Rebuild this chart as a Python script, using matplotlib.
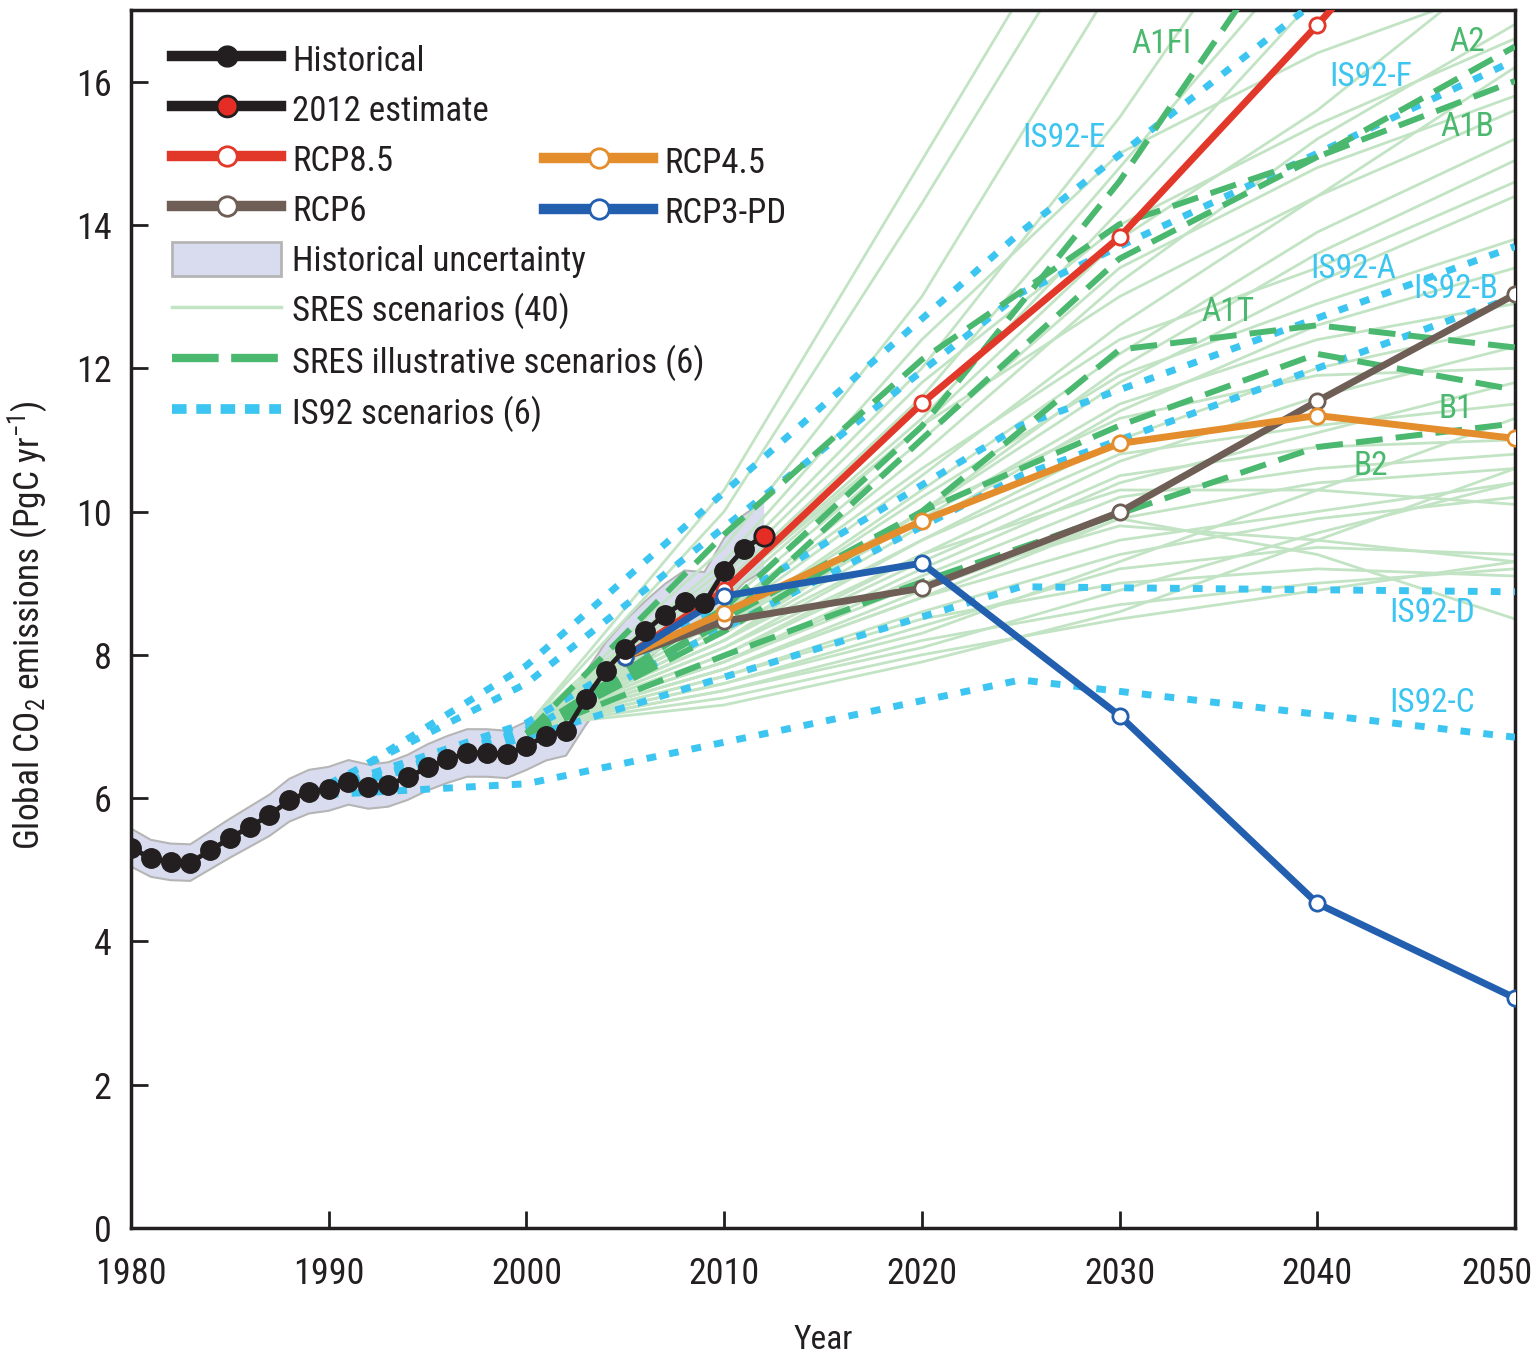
import matplotlib
matplotlib.use('Agg')
import matplotlib.pyplot as plt
from matplotlib import font_manager as fm
from matplotlib.lines import Line2D
from matplotlib.patches import Patch
from matplotlib.transforms import ScaledTranslation

# narrow face if one is present
available = {f.name for f in fm.fontManager.ttflist}
narrow = [n for n in ['Liberation Sans Narrow', 'Roboto Condensed', 'Open Sans Condensed',
                      'DejaVu Sans Condensed'] if n in available]
base_font = narrow[0] if narrow else 'Liberation Sans'
plt.rcParams['font.family'] = [base_font, 'DejaVu Sans']
plt.rcParams['mathtext.fontset'] = 'custom'
plt.rcParams['mathtext.rm'] = base_font
plt.rcParams['mathtext.it'] = base_font
plt.rcParams['mathtext.bf'] = base_font

# --- historical emissions (PgC/yr) ---
hist_years = list(range(1980, 2012))
hist_vals = [5.31, 5.16, 5.11, 5.10, 5.27, 5.44, 5.60, 5.76, 5.97, 6.09,
             6.13, 6.22, 6.16, 6.19, 6.29, 6.43, 6.54, 6.63, 6.63, 6.61,
             6.73, 6.87, 6.94, 7.39, 7.78, 8.08, 8.33, 8.56, 8.74, 8.72,
             9.17, 9.48]
est_year = 2012
est_val = 9.66
hist_unc = 0.05  # relative uncertainty

# --- RCPs ---
rcp_years = [2005, 2010, 2020, 2030, 2040, 2050]
rcp85 = [7.97, 8.90, 11.51, 13.83, 16.79, 19.90]
rcp6 = [7.97, 8.47, 8.93, 9.99, 11.54, 13.03]
rcp45 = [7.97, 8.59, 9.87, 10.95, 11.34, 11.02]
rcp3pd = [7.97, 8.82, 9.28, 7.15, 4.53, 3.21]

# --- SRES ---
sres_years = [2000, 2010, 2020, 2030, 2040, 2050]
sres_a1fi = [6.90, 8.65, 11.19, 14.61, 18.66, 23.10]
sres_a2 = [6.90, 8.46, 11.01, 13.53, 14.95, 16.49]
sres_a1b = [6.90, 9.68, 12.12, 14.01, 14.95, 16.01]
sres_a1t = [6.90, 8.33, 10.00, 12.26, 12.60, 12.29]
sres_b1 = [6.90, 8.50, 10.00, 11.20, 12.20, 11.70]
sres_b2 = [6.90, 7.99, 9.02, 9.97, 10.90, 11.23]

sres_all = [
    [7.0, 10.3, 14.9, 19.5, 24.0, 28.0],
    [7.0, 10.0, 14.3, 18.8, 23.0, 27.0],
    [7.0, 9.5, 13.0, 17.5, 22.0, 26.0],
    [7.0, 9.2, 12.0, 15.5, 19.5, 23.5],
    [7.0, 9.0, 11.6, 14.8, 18.0, 21.0],
    [7.0, 8.9, 11.3, 14.2, 17.2, 20.0],
    [7.0, 8.8, 11.2, 13.8, 15.6, 17.8],
    [7.0, 8.6, 10.8, 13.2, 15.2, 16.8],
    [7.0, 8.7, 11.0, 13.4, 14.8, 15.8],
    [7.0, 8.5, 10.5, 12.6, 14.4, 15.6],
    [7.0, 8.4, 10.3, 12.2, 13.9, 15.2],
    [7.0, 8.6, 10.6, 12.4, 13.4, 14.6],
    [7.0, 8.3, 10.0, 11.8, 13.2, 14.4],
    [7.0, 8.4, 10.2, 11.9, 12.9, 13.8],
    [7.0, 8.2, 9.8, 11.4, 12.6, 13.4],
    [7.0, 8.3, 9.9, 11.5, 12.4, 12.9],
    [7.0, 8.1, 9.6, 11.0, 12.0, 12.6],
    [7.0, 8.4, 10.0, 11.3, 11.9, 12.0],
    [7.0, 8.0, 9.4, 10.7, 11.6, 12.3],
    [7.0, 8.2, 9.6, 10.8, 11.2, 11.5],
    [7.0, 7.9, 9.2, 10.4, 11.1, 11.8],
    [7.0, 8.0, 9.3, 10.5, 10.9, 11.0],
    [7.0, 7.9, 9.1, 10.2, 10.6, 10.8],
    [7.0, 7.8, 8.9, 9.9, 10.4, 10.6],
    [7.0, 8.1, 9.4, 10.3, 10.3, 10.1],
    [7.0, 7.8, 8.8, 9.6, 10.0, 10.4],
    [7.0, 7.7, 8.6, 9.4, 9.9, 10.2],
    [7.0, 7.9, 9.0, 9.8, 9.6, 9.3],
    [7.0, 7.6, 8.4, 9.2, 9.5, 9.4],
    [7.0, 7.7, 8.5, 9.0, 9.2, 9.1],
    [7.0, 7.8, 8.8, 9.9, 9.4, 8.5],
    [7.0, 7.5, 8.2, 8.7, 9.0, 9.2],
    [7.0, 7.4, 8.0, 8.5, 8.9, 9.3],
    [7.0, 7.5, 8.1, 8.9, 9.7, 10.4],
    [7.0, 7.3, 7.9, 8.6, 9.6, 10.6],
    [7.0, 8.9, 11.2, 13.0, 14.4, 16.2],
    [7.0, 9.1, 11.8, 14.0, 15.4, 16.6],
    [7.0, 9.3, 12.4, 15.0, 16.4, 17.4],
    [7.0, 8.2, 10.0, 12.0, 13.6, 14.9],
    [7.0, 7.6, 8.3, 9.3, 10.3, 11.3],
]

# --- IS92 ---
is92_years = [1990, 2000, 2025, 2050]
is92_a = [6.15, 7.05, 11.20, 13.70]
is92_b = [6.10, 6.95, 10.50, 13.00]
is92_c = [6.05, 6.20, 7.65, 6.85]
is92_d = [6.10, 6.85, 8.95, 8.88]
is92_e = [6.15, 7.85, 13.90, 19.30]
is92_f = [6.20, 7.60, 13.05, 16.30]

# label text and position (year, value)
sres_labels = ['A1FI', 'A2', 'A1B', 'A1T', 'B1', 'B2']
sres_label_x = [2032.1, 2047.6, 2047.6, 2035.5, 2047.0, 2042.7]
sres_label_y = [16.53, 16.56, 15.37, 12.78, 11.43, 10.63]
is92_labels = ['IS92-E', 'IS92-F', 'IS92-A', 'IS92-B', 'IS92-D', 'IS92-C']
is92_label_x = [2027.2, 2042.7, 2041.8, 2047.0, 2045.8, 2045.8]
is92_label_y = [15.21, 16.07, 13.39, 13.10, 8.59, 7.33]

black = '#231f20'
c85 = '#e2382a'
c6 = '#6e5e56'
c45 = '#e38d2c'
c3 = '#235faf'
light = '#c2e4c4'
green = '#4bb86f'
cyan = '#3cc5f1'
band = '#d8dcee'
band_edge = '#b5b5b5'

fig = plt.figure(figsize=(15.37, 13.54), dpi=100)
ax = fig.add_axes([131 / 1537, 1 - 1228 / 1354, 1384 / 1537, 1218 / 1354])

# uncertainty band around historical series
yrs = hist_years + [est_year]
vals = hist_vals + [est_val]
lo = [v * (1 - hist_unc) for v in vals]
hi = [v * (1 + hist_unc) for v in vals]
ax.fill_between(yrs, lo, hi, color=band, zorder=1, lw=0)
ax.plot(yrs, lo, color=band_edge, lw=1.5, zorder=1)
ax.plot(yrs, hi, color=band_edge, lw=1.5, zorder=1)

for s in sres_all:
    ax.plot(sres_years, s, color=light, lw=2, zorder=2)

for s in [is92_a, is92_b, is92_c, is92_d, is92_e, is92_f]:
    ax.plot(is92_years, s, color=cyan, lw=5, dashes=(1.4, 1.9), zorder=3)

for s in [sres_a1fi, sres_a2, sres_a1b, sres_a1t, sres_b1, sres_b2]:
    ax.plot(sres_years, s, color=green, lw=4.3, dashes=(4.5, 2.2), zorder=4)

for vals_, col in [(rcp85, c85), (rcp6, c6), (rcp45, c45), (rcp3pd, c3)]:
    ax.plot(rcp_years, vals_, color=col, lw=5, marker='o', ms=11,
            mfc='white', mec=col, mew=2, zorder=5)

ax.plot([hist_years[-1], est_year], [hist_vals[-1], est_val], color=black, lw=3.5, zorder=6)
ax.plot(hist_years, hist_vals, color=black, lw=3.5, marker='o', ms=14, zorder=6)
ax.plot([est_year], [est_val], 'o', ms=14, mfc='#e52d25', mec=black, mew=2, zorder=7)

for t, x, y in zip(sres_labels, sres_label_x, sres_label_y):
    ax.text(x, y, t, color=green, fontsize=24, ha='center', va='center', zorder=8)
for t, x, y in zip(is92_labels, is92_label_x, is92_label_y):
    ax.text(x, y, t, color=cyan, fontsize=24, ha='center', va='center', zorder=8)

ax.set_xlim(1980, 2050)
ax.set_ylim(0, 17)
ax.set_xticks(range(1980, 2051, 10))
ax.set_yticks(range(0, 17, 2))
ax.tick_params(direction='in', length=12, width=2, labelsize=26, colors=black)
ax.tick_params(axis='y', pad=14)
ax.tick_params(axis='x', pad=20)
for sp in ax.spines.values():
    sp.set_linewidth(2.5)
    sp.set_color(black)

# pull the last year label inside the figure edge
last = ax.get_xticklabels()[-1]
last.set_transform(last.get_transform() + ScaledTranslation(-0.18, 0, fig.dpi_scale_trans))

ax.set_xlabel('Year', fontsize=24, color=black)
ax.xaxis.set_label_coords(0.5, -0.079)
ax.set_ylabel('Global CO$_2$ emissions (PgC yr$^{-1}$)', fontsize=25.5, color=black)
ax.yaxis.set_label_coords(-0.058, 0.495)

# legend
h_hist = Line2D([], [], color=black, lw=7.5, marker='o', ms=15, mfc=black, mec=black)
h_est = Line2D([], [], color=black, lw=7.5, marker='o', ms=15, mfc='#e52d25', mec=black, mew=2)
h85 = Line2D([], [], color=c85, lw=7.5, marker='o', ms=14, mfc='white', mec=c85, mew=2)
h6 = Line2D([], [], color=c6, lw=7.5, marker='o', ms=14, mfc='white', mec=c6, mew=2)
h45 = Line2D([], [], color=c45, lw=7.5, marker='o', ms=14, mfc='white', mec=c45, mew=2)
h3 = Line2D([], [], color=c3, lw=7.5, marker='o', ms=14, mfc='white', mec=c3, mew=2)
h_unc = Patch(facecolor=band, edgecolor=band_edge, lw=2)
h_sres = Line2D([], [], color=light, lw=2.5)
h_ill = Line2D([], [], color=green, lw=6, dashes=(5.6, 1.5))
h_is = Line2D([], [], color=cyan, lw=7, dashes=(1.5, 1.0))

leg_kw = dict(loc='upper left', frameon=False, fontsize=25, handlelength=3.15,
              handleheight=1.14, handletextpad=0.32, labelspacing=0.41,
              borderpad=0, borderaxespad=0, labelcolor=black)
leg1 = ax.legend([h_hist, h_est, h85, h6, h_unc, h_sres, h_ill, h_is],
                 ['Historical', '2012 estimate', 'RCP8.5', 'RCP6', 'Historical uncertainty',
                  'SRES scenarios (40)', 'SRES illustrative scenarios (6)', 'IS92 scenarios (6)'],
                 bbox_to_anchor=(0.0296, 0.974), **leg_kw)
ax.add_artist(leg1)
ax.legend([h45, h3], ['RCP4.5', 'RCP3-PD'], bbox_to_anchor=(0.2985, 0.890), **leg_kw)

fig.savefig('out.png', dpi=100)
